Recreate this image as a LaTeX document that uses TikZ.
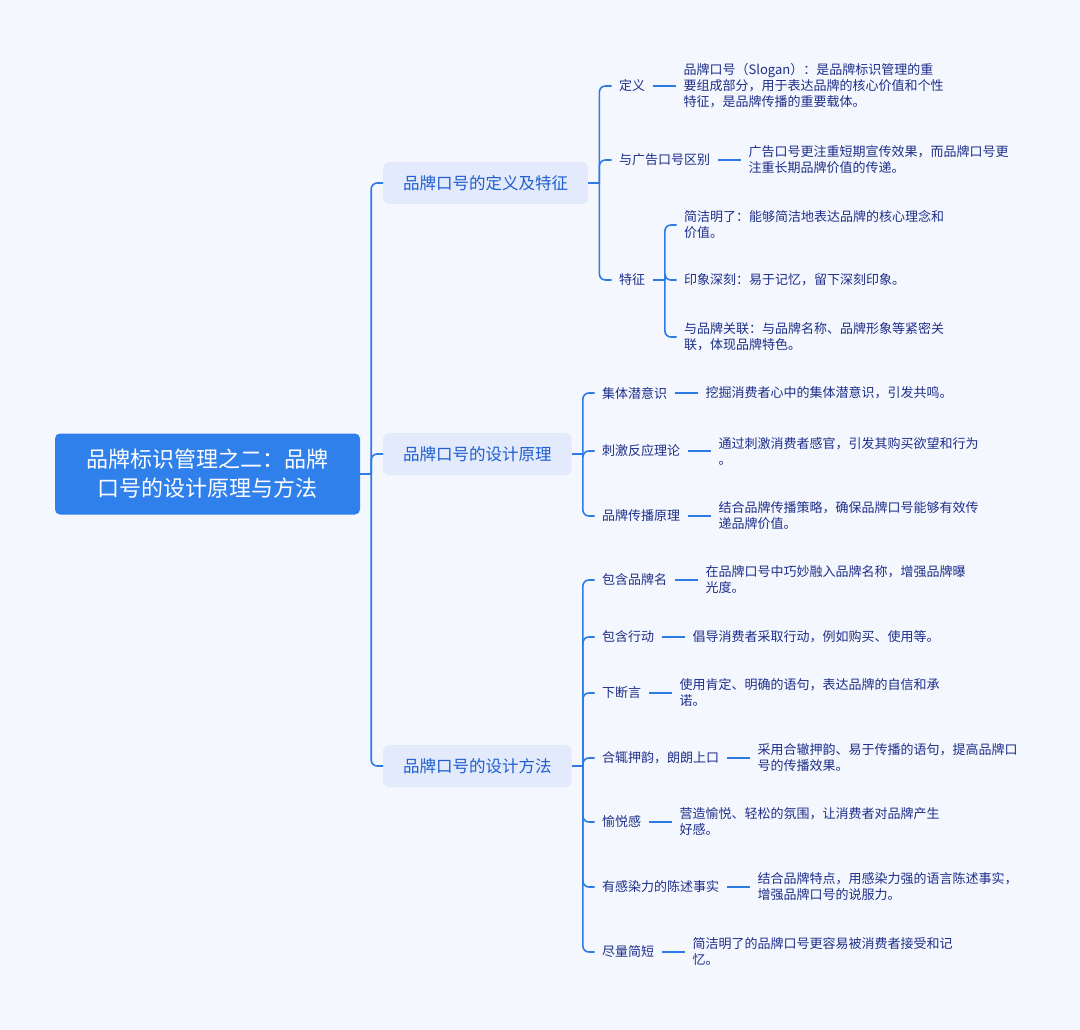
\documentclass[tikz,border=0pt]{standalone}
\usepackage{fontspec}
\setmainfont{Noto Sans CJK SC}
\usetikzlibrary{positioning,calc}
\definecolor{bg}{HTML}{F5F7FE}
\definecolor{linec}{HTML}{2F7BE6}
\definecolor{rootc}{HTML}{3080EC}
\definecolor{boxc}{HTML}{E2EAFB}
\definecolor{ltext}{HTML}{1F5FCF}
\definecolor{leaftext}{HTML}{1D2F8A}
\begin{document}
\begin{tikzpicture}[x=1pt,y=-1pt,
  rootnode/.style={fill=rootc, rounded corners=5pt, text=white, minimum width=305pt, minimum height=81pt, align=center, font=\fontsize{22}{29}\selectfont, inner sep=0pt},
  lone/.style={fill=boxc, rounded corners=6pt, text=ltext, minimum height=42pt, inner xsep=20pt, inner ysep=0pt, anchor=west, font=\fontsize{16.5}{20}\selectfont},
  lab/.style={text=leaftext, inner xsep=7.5pt, inner ysep=2pt, anchor=west, font=\fontsize{13}{16}\selectfont},
  leaf/.style={text=leaftext, inner xsep=7.5pt, inner ysep=2pt, align=left, anchor=west, font=\fontsize{13}{16}\selectfont},
  conn/.style={draw=linec, line width=1.6pt, rounded corners=6pt},
]
\fill[bg] (0,0) rectangle (1080,1030);
\useasboundingbox (0,0) rectangle (1080,1030);

% root
\node[rootnode] (root) at (207.5,474) {品牌标识管理之二：品牌\\口号的设计原理与方法};

% level 1
\node[lone] (b1) at (383,183) {品牌口号的定义及特征};
\node[lone] (b2) at (383,454) {品牌口号的设计原理};
\node[lone] (b3) at (383,766) {品牌口号的设计方法};

\coordinate (t0) at ($(root.east)+(11,0)$);
\draw[conn] (root.east) -- (t0);
\draw[conn] (t0) |- (b1.west);
\draw[conn] (t0) |- (b2.west);
\draw[conn] (t0) |- (b3.west);

% ---- branch 1
\node[lab] (c11) at (611.5,86) {定义};
\node[leaf, right=23pt of c11] (c11l) {品牌口号（Slogan）：是品牌标识管理的重\\要组成部分，用于表达品牌的核心价值和个性\\特征，是品牌传播的重要载体。};
\node[lab] (c12) at (611.5,160) {与广告口号区别};
\node[leaf, right=23pt of c12] (c12l) {广告口号更注重短期宣传效果，而品牌口号更\\注重长期品牌价值的传递。};
\node[lab] (c13) at (611.5,280) {特征};
\node[leaf] (c131) at (676.5,225) {简洁明了：能够简洁地表达品牌的核心理念和\\价值。};
\node[leaf] (c132) at (676.5,280) {印象深刻：易于记忆，留下深刻印象。};
\node[leaf] (c133) at (676.5,337) {与品牌关联：与品牌名称、品牌形象等紧密关\\联，体现品牌特色。};

\coordinate (t1) at ($(b1.east)+(11,0)$);
\draw[conn] (b1.east) -- (t1);
\draw[conn] (t1) |- (c11.west);
\draw[conn] (t1) |- (c12.west);
\draw[conn] (t1) |- (c13.west);
\draw[conn] (c11.east) -- (c11l.west);
\draw[conn] (c12.east) -- (c12l.west);
\coordinate (s1) at ($(c13.east)+(12,0)$);
\draw[conn] (c13.east) -- (s1);
\draw[conn] (s1) |- (c131.west);
\draw[conn] (s1) |- (c132.west);
\draw[conn] (s1) |- (c133.west);

% ---- branch 2
\node[lab] (c21) at (594.5,393) {集体潜意识};
\node[leaf, right=23pt of c21] (c21l) {挖掘消费者心中的集体潜意识，引发共鸣。};
\node[lab] (c22) at (594.5,451) {刺激反应理论};
\node[leaf, right=23pt of c22] (c22l) {通过刺激消费者感官，引发其购买欲望和行为\\。};
\node[lab] (c23) at (594.5,516) {品牌传播原理};
\node[leaf, right=23pt of c23] (c23l) {结合品牌传播策略，确保品牌口号能够有效传\\递品牌价值。};

\coordinate (t2) at ($(b2.east)+(11,0)$);
\draw[conn] (b2.east) -- (t2);
\foreach \n in {c21,c22,c23}{
  \draw[conn] (t2) |- (\n.west);
  \draw[conn] (\n.east) -- (\n l.west);
}

% ---- branch 3
\node[lab] (c31) at (594.5,580) {包含品牌名};
\node[leaf, right=23pt of c31] (c31l) {在品牌口号中巧妙融入品牌名称，增强品牌曝\\光度。};
\node[lab] (c32) at (594.5,637) {包含行动};
\node[leaf, right=23pt of c32] (c32l) {倡导消费者采取行动，例如购买、使用等。};
\node[lab] (c33) at (594.5,693) {下断言};
\node[leaf, right=23pt of c33] (c33l) {使用肯定、明确的语句，表达品牌的自信和承\\诺。};
\node[lab] (c34) at (594.5,758) {合辄押韵，朗朗上口};
\node[leaf, right=23pt of c34] (c34l) {采用合辙押韵、易于传播的语句，提高品牌口\\号的传播效果。};
\node[lab] (c35) at (594.5,822) {愉悦感};
\node[leaf, right=23pt of c35] (c35l) {营造愉悦、轻松的氛围，让消费者对品牌产生\\好感。};
\node[lab] (c36) at (594.5,887) {有感染力的陈述事实};
\node[leaf, right=23pt of c36] (c36l) {结合品牌特点，用感染力强的语言陈述事实，\\增强品牌口号的说服力。};
\node[lab] (c37) at (594.5,952) {尽量简短};
\node[leaf, right=23pt of c37] (c37l) {简洁明了的品牌口号更容易被消费者接受和记\\忆。};

\coordinate (t3) at ($(b3.east)+(11,0)$);
\draw[conn] (b3.east) -- (t3);
\foreach \n in {c31,c32,c33,c34,c35,c36,c37}{
  \draw[conn] (t3) |- (\n.west);
  \draw[conn] (\n.east) -- (\n l.west);
}
\end{tikzpicture}
\end{document}
